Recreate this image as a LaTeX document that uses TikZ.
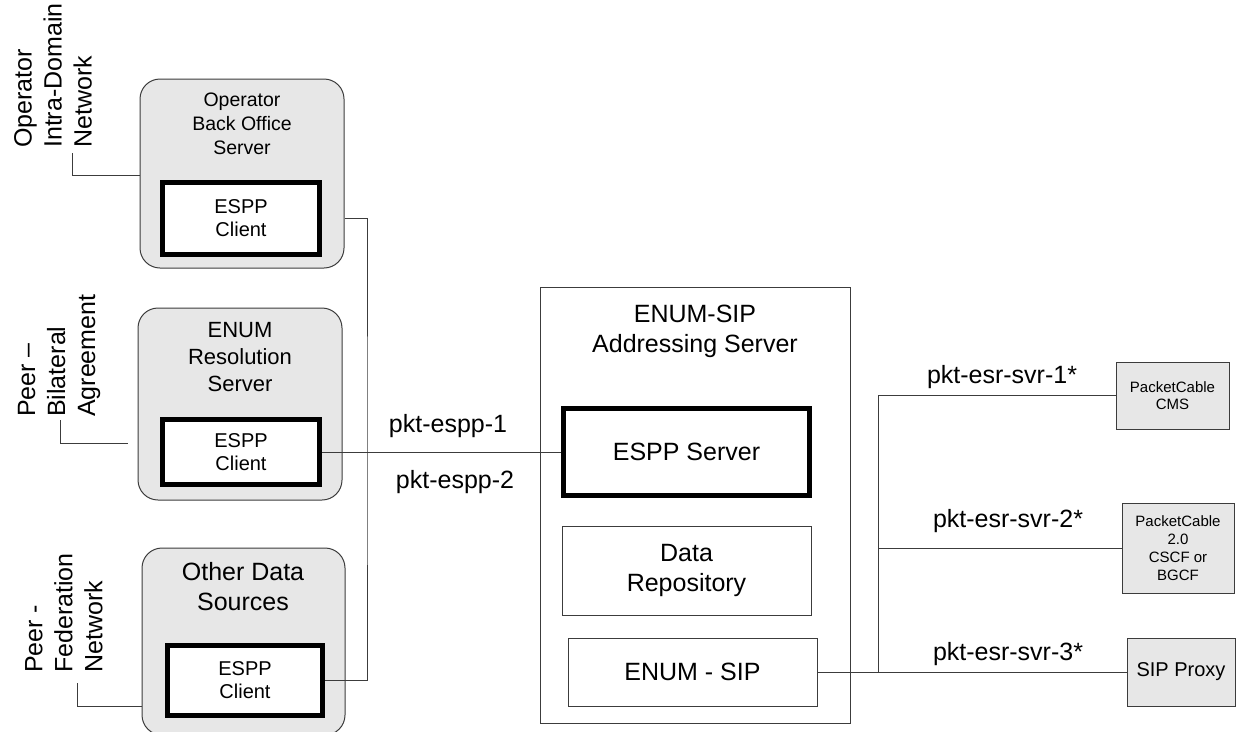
\documentclass[tikz,border=0pt]{standalone}
\usepackage{fontspec}
\setmainfont{Liberation Sans}
\definecolor{boxgray}{RGB}{231,231,231}
\definecolor{linegray}{RGB}{60,60,60}
\begin{document}
\begin{tikzpicture}[x=1pt,y=-1pt,
  outer/.style={draw=linegray, fill=boxgray, rounded corners=20pt, line width=1pt, inner sep=0pt},
  client/.style={draw=black, fill=white, line width=5pt, inner sep=0pt, align=center, font=\fontsize{20}{23}\selectfont},
  plainbox/.style={draw=linegray, fill=white, line width=1pt, inner sep=0pt, align=center, font=\fontsize{25}{30}\selectfont},
  endpoint/.style={draw=linegray, fill=boxgray, line width=1pt, inner sep=0pt, align=center},
  title/.style={align=center, inner sep=0pt},
  side/.style={rotate=90, anchor=west, align=left, inner sep=0pt, font=\fontsize{25}{30}\selectfont},
  iface/.style={anchor=base, inner sep=0pt, font=\fontsize{25}{30}\selectfont},
  wire/.style={draw=linegray, line width=1pt}]
\useasboundingbox (0,0) rectangle (1236,731);
\node[outer, minimum width=204pt, minimum height=189pt] (obos) at (242,173.5) {};
\node[title, font=\fontsize{19.5}{24}\selectfont] (obos-t) at (242,124) {Operator\\Back Office\\Server};
\node[client, minimum width=157pt, minimum height=72pt] (cl1) at (241,218.5) {ESPP\\Client};
\node[outer, minimum width=204pt, minimum height=192pt] (ers) at (240,404) {};
\node[title, font=\fontsize{22}{27}\selectfont] (ers-t) at (240,357) {ENUM\\Resolution\\Server};
\node[client, minimum width=157pt, minimum height=65pt] (cl2) at (241,452) {ESPP\\Client};
\node[outer, minimum width=203pt, minimum height=187pt] (ods) at (243.5,641.5) {};
\node[title, font=\fontsize{25}{30}\selectfont] (ods-t) at (243,587) {Other Data\\Sources};
\node[client, minimum width=155pt, minimum height=70pt] (cl3) at (245,680.5) {ESPP\\Client};
\node[side] (net1) at (53,148) {Operator\\Intra-Domain\\Network};
\node[side] (net2) at (59,417) {Peer --\\Bilateral\\Agreement};
\node[side] (net3) at (64,673) {Peer -\\Federation\\Network};
\coordinate (net1-end) at (72,153);
\coordinate (net2-end) at (60,420);
\coordinate (net3-end) at (77,683);
\draw[wire] (net1-end) |- ([yshift=-1.5pt]obos.west);
\draw[wire] (net2-end) |- ([xshift=-10pt,yshift=-39pt]ers.west);
\draw[wire] (net3-end) |- ([yshift=-64.5pt]ods.west);
\node[plainbox, minimum width=310pt, minimum height=436pt] (esas) at (695,505) {};
\node[title, font=\fontsize{25}{30}\selectfont] (esas-t) at (695,331) {ENUM-SIP\\Addressing Server};
\node[client, font=\fontsize{25}{30}\selectfont, minimum width=246pt, minimum height=87pt] (server) at (686.5,452) {ESPP Server};
\node[plainbox, minimum width=249pt, minimum height=89pt] (repo) at (686.5,570.5) {Data\\Repository};
\node[plainbox, minimum width=249pt, minimum height=68pt] (esip) at (692.5,672) {ENUM - SIP};
\node[endpoint, font=\fontsize{15}{17.7}\selectfont, minimum width=113pt, minimum height=67pt] (cms) at (1172.5,395.5) {PacketCable\\CMS};
\node[endpoint, font=\fontsize{15}{18}\selectfont, minimum width=112pt, minimum height=90pt] (cscf) at (1178,548) {PacketCable\\2.0\\CSCF or\\BGCF};
\node[endpoint, font=\fontsize{20}{24}\selectfont, minimum width=108pt, minimum height=68pt] (proxy) at (1181,672) {SIP Proxy};
\coordinate (bus) at (367,452);
\coordinate (rbus) at (878,548);
\draw[wire] (obos.east |- cl1.east) -| (bus) |- (cl3.east);
\draw[wire] (cl2.east) -- (server.west);
\draw[wire] (cms.west) -| (rbus) |- (esip.east);
\draw[wire] (rbus) -- (cscf.west);
\draw[wire] (esip.east) -- (proxy.west);
\node[iface] (espp1) at (448,432) {pkt-espp-1};
\node[iface] (espp2) at (455,488) {pkt-espp-2};
\node[iface] (svr1) at (1002,383) {pkt-esr-svr-1*};
\node[iface] (svr2) at (1008,527) {pkt-esr-svr-2*};
\node[iface] (svr3) at (1008,660) {pkt-esr-svr-3*};
\end{tikzpicture}
\end{document}
